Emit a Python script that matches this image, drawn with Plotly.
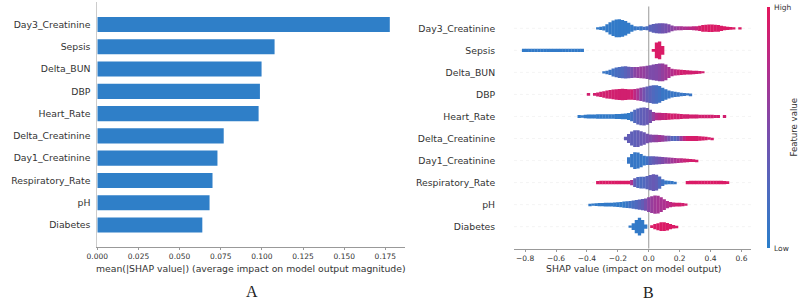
import plotly.graph_objects as go

# ---------------- data ----------------
FEATURES = ["Day3_Creatinine", "Sepsis", "Delta_BUN", "DBP", "Heart_Rate",
            "Delta_Creatinine", "Day1_Creatinine", "Respiratory_Rate", "pH", "Diabetes"]
MEAN_ABS_SHAP = [0.1777, 0.1077, 0.0998, 0.0988, 0.0980, 0.0768, 0.0730, 0.0700, 0.0682, 0.0638]

A_TICKS = [0.000, 0.025, 0.050, 0.075, 0.100, 0.125, 0.150, 0.175]
B_TICKS = [-0.8, -0.6, -0.4, -0.2, 0.0, 0.2, 0.4, 0.6]
B_TICK_LABELS = ["\u22120.8", "\u22120.6", "\u22120.4", "\u22120.2", "0.0", "0.2", "0.4", "0.6"]

# beeswarm read off the picture as density profiles: SHAP-value bins of 0.02,
# swarm half-width (in row units) and mean feature value (0 = low, 1 = high) per bin
BIN_STEP = 0.02

DAY3_X0 = -0.33
DAY3_H = [0.05, 0.07, 0.10, 0.18, 0.28, 0.35, 0.40, 0.41, 0.38, 0.33, 0.25, 0.16,
          0.10, 0.08, 0.10, 0.07, 0.09,
          0.16, 0.20, 0.22, 0.23, 0.23, 0.22, 0.19, 0.13,
          0.10, 0.09, 0.09, 0.08, 0.08, 0.08, 0.09, 0.10, 0.12,
          0.15, 0.16, 0.17, 0.17, 0.16, 0.15, 0.12, 0.09, 0.07, 0.06, 0.05, 0.0, 0.05]
DAY3_C = [0.05] * 12 + [0.08, 0.10, 0.10, 0.15, 0.20] + \
         [0.30, 0.32, 0.35, 0.38, 0.42, 0.45, 0.50, 0.55] + \
         [0.60, 0.65, 0.70, 0.72, 0.75, 0.78, 0.80, 0.85, 0.90] + [0.95] * 13

SEPSIS_X0 = -0.81
SEPSIS_H = [0.07] * 20 + [0.0] * 22 + [0.06, 0.36, 0.40, 0.20]
SEPSIS_C = [0.05] * 20 + [0.5] * 22 + [0.95] * 4

DBUN_X0 = -0.29
DBUN_H = [0.05, 0.08, 0.12, 0.18, 0.22, 0.25, 0.27, 0.28, 0.26, 0.25, 0.24, 0.25, 0.27, 0.28, 0.30,
          0.33, 0.36, 0.38, 0.40, 0.40, 0.36, 0.25, 0.17, 0.14, 0.13,
          0.12, 0.11, 0.10, 0.09, 0.08, 0.07, 0.06, 0.04]
DBUN_C = [0.10, 0.10, 0.12, 0.15, 0.20, 0.22, 0.25, 0.30, 0.35, 0.45, 0.55, 0.60, 0.62, 0.60, 0.55,
          0.50, 0.50, 0.52, 0.55, 0.60, 0.65, 0.70, 0.75, 0.80, 0.85] + [0.90] * 8

DBP_X0 = -0.39
DBP_H = [0.06, 0.0, 0.06, 0.09, 0.12, 0.15, 0.18, 0.20, 0.22, 0.24, 0.25, 0.26, 0.25, 0.24, 0.24,
         0.25, 0.27, 0.30, 0.33, 0.36, 0.39, 0.42, 0.42, 0.38,
         0.30, 0.24, 0.18, 0.14, 0.12, 0.10, 0.08, 0.07, 0.05, 0.04]
DBP_C = [0.90] * 15 + [0.80, 0.70, 0.55, 0.45, 0.35, 0.30, 0.25, 0.20, 0.15] + [0.10] * 10

HR_X0 = -0.45
HR_H = [0.07, 0.06,
        0.08, 0.09, 0.09, 0.09, 0.10, 0.10, 0.10, 0.10, 0.10, 0.10, 0.11, 0.11, 0.12, 0.13, 0.16,
        0.22, 0.30, 0.36, 0.40, 0.41, 0.38,
        0.30, 0.20, 0.17, 0.17, 0.16, 0.16, 0.15, 0.14, 0.13, 0.12, 0.11, 0.10, 0.10,
        0.09, 0.09, 0.09, 0.08, 0.08, 0.08, 0.08, 0.08, 0.07, 0.07, 0.0, 0.07]
HR_C = [0.05] * 17 + [0.15, 0.25, 0.30, 0.33, 0.35, 0.38] + [0.45, 0.60, 0.75] + \
       [0.80, 0.82, 0.85] + [0.90] * 19

DCR_X0 = -0.15
DCR_H = [0.08, 0.20, 0.32, 0.38, 0.38, 0.33, 0.28, 0.22,
         0.18, 0.17, 0.17, 0.16, 0.15, 0.13, 0.12, 0.11, 0.11, 0.11, 0.11, 0.11,
         0.11, 0.11, 0.11, 0.11, 0.10, 0.09, 0.08, 0.06, 0.04]
DCR_C = [0.35, 0.35, 0.33, 0.33, 0.35, 0.38, 0.40, 0.45,
         0.50, 0.55, 0.60, 0.65, 0.62, 0.55, 0.45, 0.30, 0.25, 0.35, 0.60, 0.80] + [0.92] * 9

D1CR_X0 = -0.13
D1CR_H = [0.15, 0.30, 0.38, 0.36, 0.30, 0.22, 0.20,
          0.20, 0.19, 0.18, 0.17, 0.16, 0.15, 0.14, 0.13, 0.12, 0.11, 0.10, 0.09, 0.08,
          0.07, 0.06, 0.04]
D1CR_C = [0.08] * 6 + [0.15] + [0.30, 0.35, 0.40, 0.45, 0.50, 0.55, 0.60, 0.65, 0.70, 0.75,
                                0.80, 0.85, 0.88, 0.90, 0.92, 0.92]

RR_X0 = -0.33
RR_H = [0.07] + [0.08] * 10 + [0.12, 0.20, 0.25, 0.27, 0.27, 0.30] + \
       [0.35, 0.38, 0.36, 0.28, 0.15, 0.09, 0.08, 0.07, 0.04] + [0.0] * 3 + \
       [0.07] + [0.08] * 11 + [0.07, 0.06]
RR_C = [0.95] * 11 + [0.70, 0.35, 0.25, 0.22, 0.25, 0.30] + [0.35, 0.38, 0.35, 0.25, 0.15] + \
       [0.08] * 4 + [0.5] * 3 + [0.95] * 14

PH_X0 = -0.38
PH_H = [0.04, 0.05, 0.06, 0.07, 0.07, 0.08, 0.08, 0.09, 0.10, 0.11, 0.12, 0.14, 0.15, 0.17,
        0.19, 0.21, 0.23, 0.25, 0.28, 0.33, 0.38, 0.41, 0.40, 0.33, 0.24, 0.16, 0.12, 0.10,
        0.09, 0.08, 0.07, 0.05]
PH_C = [0.05] * 12 + [0.10, 0.15, 0.20, 0.25, 0.30, 0.35, 0.45, 0.55, 0.62, 0.66, 0.68, 0.70,
                      0.72, 0.75, 0.80, 0.85] + [0.90] * 4

DIAB_X0 = -0.12
DIAB_H = [0.05, 0.15, 0.30, 0.40, 0.30, 0.10, 0.0, 0.06, 0.12, 0.16, 0.20, 0.20, 0.17, 0.12, 0.08, 0.04]
DIAB_C = [0.05] * 6 + [0.5] + [0.95] * 9

SWARM = [(DAY3_X0, DAY3_H, DAY3_C), (SEPSIS_X0, SEPSIS_H, SEPSIS_C), (DBUN_X0, DBUN_H, DBUN_C),
         (DBP_X0, DBP_H, DBP_C), (HR_X0, HR_H, HR_C), (DCR_X0, DCR_H, DCR_C),
         (D1CR_X0, D1CR_H, D1CR_C), (RR_X0, RR_H, RR_C), (PH_X0, PH_H, PH_C),
         (DIAB_X0, DIAB_H, DIAB_C)]

# ---------------- styling ----------------
W, H = 800, 302
BAR_BLUE = "rgb(47,127,200)"
COLORSCALE = [[0.0, "rgb(42,126,202)"], [0.25, "rgb(80,105,190)"], [0.5, "rgb(125,75,170)"],
              [0.75, "rgb(180,45,140)"], [1.0, "rgb(228,22,92)"]]
TXT = "#333333"
FONT = "DejaVu Sans"

n = len(FEATURES)
pos = [n - 1 - i for i in range(n)]

def px_x(p):
    return p / W

def px_y(p):
    return (H - p) / H

fig = go.Figure()

# panel A: mean |SHAP|
fig.add_trace(go.Bar(x=MEAN_ABS_SHAP, y=pos, orientation="h", width=0.68,
                     marker=dict(color=BAR_BLUE, line=dict(width=0)),
                     xaxis="x", yaxis="y", hoverinfo="skip", showlegend=False))

# panel B: beeswarm
bx, by, bb, bc = [], [], [], []
for i, (x0, hs, cs) in enumerate(SWARM):
    assert len(hs) == len(cs), (FEATURES[i], len(hs), len(cs))
    for k, (h, c) in enumerate(zip(hs, cs)):
        if h <= 0:
            continue
        bx.append(x0 + k * BIN_STEP)
        by.append(2 * h)
        bb.append(pos[i] - h)
        bc.append(c)

fig.add_trace(go.Bar(
    x=bx, y=by, base=bb, width=BIN_STEP * 1.08, xaxis="x2", yaxis="y2",
    marker=dict(color=bc, colorscale=COLORSCALE, cmin=0, cmax=1, line=dict(width=0),
                showscale=True,
                colorbar=dict(x=766.3 / W, xanchor="left", xpad=0, ypad=0,
                              y=px_y(6.7), yanchor="top", len=240.6 / H, lenmode="fraction",
                              thickness=3, thicknessmode="pixels", outlinewidth=0,
                              showticklabels=False, ticks="")),
    hoverinfo="skip", showlegend=False))

shapes = []
for p in pos:
    shapes.append(dict(type="line", xref="x2", yref="y2", x0=-0.872, x1=0.664, y0=p, y1=p,
                       line=dict(color="#ececec", width=0.6, dash="dot"), layer="below"))
shapes.append(dict(type="line", xref="x2", yref="y2", x0=0, x1=0, y0=-1, y1=10,
                   line=dict(color="#999999", width=1), layer="below"))

axis_common = dict(showgrid=False, zeroline=False, tickfont=dict(family=FONT, size=7.5, color=TXT))

fig.update_layout(
    width=W, height=H, margin=dict(l=0, r=0, t=0, b=0),
    paper_bgcolor="white", plot_bgcolor="white", barmode="overlay",
    font=dict(family=FONT, color=TXT),
    xaxis=dict(domain=[px_x(87.5), px_x(399.6)], range=[0, 0.187], anchor="y",
               tickvals=A_TICKS, ticktext=[f"{v:.3f}" for v in A_TICKS],
               showline=True, linecolor="#999999", linewidth=1,
               ticks="outside", ticklen=2, tickcolor="#999999", **axis_common),
    yaxis=dict(domain=[px_y(247.3), px_y(2.2)], range=[-1, 10], anchor="x",
               tickvals=pos, ticktext=FEATURES, showline=True, linecolor="#cccccc", linewidth=1,
               ticks="outside", ticklen=4, tickcolor="rgba(0,0,0,0)",
               showgrid=False, zeroline=False,
               tickfont=dict(family=FONT, size=9.3, color=TXT)),
    xaxis2=dict(domain=[px_x(510), px_x(750.7)], range=[-0.872, 0.664], anchor="y2",
                tickvals=B_TICKS, ticktext=B_TICK_LABELS,
                showline=True, linecolor="#999999", linewidth=1,
                ticks="outside", ticklen=2, tickcolor="#999999", **axis_common),
    yaxis2=dict(domain=[px_y(248.7), px_y(6.3)], range=[-1, 10], anchor="x2",
                tickvals=pos, ticktext=FEATURES, showline=False,
                ticks="outside", ticklen=16, tickcolor="rgba(0,0,0,0)",
                showgrid=False, zeroline=False,
                tickfont=dict(family=FONT, size=9.3, color=TXT)),
    shapes=shapes,
    annotations=[
        dict(text="mean(|SHAP value|) (average impact on model output magnitude)",
             x=px_x(243), y=px_y(268.5), xref="paper", yref="paper", showarrow=False,
             xanchor="center", yanchor="middle", font=dict(family=FONT, size=9.3, color=TXT)),
        dict(text="SHAP value (impact on model output)",
             x=px_x(630.8), y=px_y(268), xref="paper", yref="paper", showarrow=False,
             xanchor="center", yanchor="middle", font=dict(family=FONT, size=9.3, color=TXT)),
        dict(text="A", x=px_x(244), y=px_y(291), xref="paper", yref="paper", showarrow=False,
             xanchor="center", yanchor="middle",
             font=dict(family="Liberation Serif", size=16, color="#222222")),
        dict(text="B", x=px_x(646.7), y=px_y(292), xref="paper", yref="paper", showarrow=False,
             xanchor="center", yanchor="middle",
             font=dict(family="Liberation Serif", size=16, color="#222222")),
        dict(text="High", x=px_x(771.5), y=px_y(7.3), xref="paper", yref="paper", showarrow=False,
             xanchor="left", yanchor="middle", font=dict(family=FONT, size=7.5, color=TXT)),
        dict(text="Low", x=px_x(771.5), y=px_y(248.3), xref="paper", yref="paper", showarrow=False,
             xanchor="left", yanchor="middle", font=dict(family=FONT, size=7.5, color=TXT)),
        dict(text="Feature value", x=px_x(793), y=px_y(127.5), xref="paper", yref="paper",
             showarrow=False, textangle=-90, xanchor="center", yanchor="middle",
             font=dict(family=FONT, size=8.6, color=TXT)),
    ],
)

# remove the browser's default 8px body margin so the 800x302 figure fills the window
fig.write_html("out.html", config={"displayModeBar": False},
               post_script="document.body.style.margin='0';document.body.style.overflow='hidden';")
